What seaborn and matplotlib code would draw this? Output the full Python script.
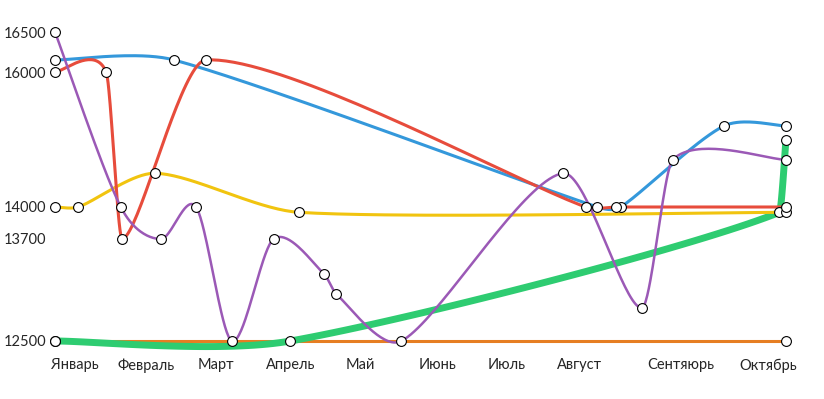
import numpy as np
import pandas as pd
import matplotlib
matplotlib.use("Agg")
import matplotlib.pyplot as plt
import seaborn as sns

# ---- data (x = position across the period, 0..100) ----
months = ['Январь', 'Февраль', 'Март', 'Апрель', 'Май', 'Июнь', 'Июль', 'Август', 'Сентяюрь', 'Октябрь']
month_x = [2.7, 12.5, 22.0, 32.3, 41.7, 52.3, 61.8, 71.8, 85.6, 97.5]
y_ticks = [12500, 13700, 14000, 16000, 16500]

orange_x = [0, 100]
orange_y = [12500, 12500]

green_x = [0, 32.2, 99.1, 100]
green_y = [12500, 12500, 13950, 15000]

yellow_x = [0, 3.2, 13.7, 33.4, 100]
yellow_y = [14000, 14000, 14500, 13950, 13950]

blue_x = [0, 16.3, 74.2, 77.4, 91.5, 100]
blue_y = [16150, 16150, 14000, 14000, 15200, 15200]

red_x = [0, 7.0, 9.2, 20.6, 72.6, 76.8, 100]
red_y = [16000, 16000, 13700, 16150, 14000, 14000, 14000]

purple_x = [0, 9.0, 14.5, 19.3, 24.2, 29.9, 36.8, 38.5, 47.4, 69.5, 80.3, 84.5, 100]
purple_y = [16500, 14000, 13700, 14000, 12500, 13700, 13290, 13050, 12500, 14500, 12890, 14700, 14700]

# ---- y axis is not evenly spaced: tick heights (px above the 12500 line) ----
tick_px = np.array([0, 102, 134, 269, 309], float)
yt = np.array(y_ticks, float)


def fwd(v):
    v = np.asarray(v, float)
    out = np.interp(v, yt, tick_px)
    k0 = (tick_px[1] - tick_px[0]) / (yt[1] - yt[0])
    k1 = (tick_px[-1] - tick_px[-2]) / (yt[-1] - yt[-2])
    out = np.where(v < yt[0], tick_px[0] + (v - yt[0]) * k0, out)
    out = np.where(v > yt[-1], tick_px[-1] + (v - yt[-1]) * k1, out)
    return out


def inv(p):
    p = np.asarray(p, float)
    out = np.interp(p, tick_px, yt)
    k0 = (yt[1] - yt[0]) / (tick_px[1] - tick_px[0])
    k1 = (yt[-1] - yt[-2]) / (tick_px[-1] - tick_px[-2])
    out = np.where(p < tick_px[0], yt[0] + (p - tick_px[0]) * k0, out)
    out = np.where(p > tick_px[-1], yt[-1] + (p - tick_px[-1]) * k1, out)
    return out


def smooth(xs, ys, n=40, c=0.3):
    # catmull-rom style bezier, done in screen-like space
    P = np.column_stack([np.asarray(xs, float), fwd(ys)])
    m = len(P)
    segs = []
    for i in range(m - 1):
        p0, p1, p2, p3 = P[max(i - 1, 0)], P[i], P[i + 1], P[min(i + 2, m - 1)]
        dx = abs(p2[0] - p1[0])
        t1 = (p2 - p0) / 6
        t2 = (p3 - p1) / 6
        if abs(t1[0]) > c * dx:
            t1 = t1 * c * dx / abs(t1[0])
        if abs(t2[0]) > c * dx:
            t2 = t2 * c * dx / abs(t2[0])
        c1, c2 = p1 + t1, p2 - t2
        s = np.linspace(0, 1, n)[:, None]
        segs.append((1 - s) ** 3 * p1 + 3 * (1 - s) ** 2 * s * c1 + 3 * (1 - s) * s ** 2 * c2 + s ** 3 * p2)
    pts = np.vstack(segs)
    return pd.DataFrame({'x': pts[:, 0], 'y': inv(pts[:, 1])})


sns.set_style("white")
plt.rcParams['font.family'] = ['Lato', 'DejaVu Sans']

fig = plt.figure(figsize=(8.24, 3.99), dpi=100)
ax = fig.add_axes([55 / 824, 58 / 399, 731 / 824, 309 / 399])
ax.set_yscale('function', functions=(fwd, inv))

series = [
    (orange_x, orange_y, '#E67E22', 2.2),
    (green_x, green_y, '#2ECC71', 5.0),
    (yellow_x, yellow_y, '#F1C40F', 2.2),
    (blue_x, blue_y, '#3498DB', 2.2),
    (red_x, red_y, '#E74C3C', 2.2),
    (purple_x, purple_y, '#9B59B6', 1.8),
]

for xs, ys, col, lw in series:
    curve = smooth(xs, ys)
    sns.lineplot(data=curve, x='x', y='y', sort=False, estimator=None,
                 color=col, lw=lw, ax=ax, clip_on=False)

for xs, ys, col, lw in series:
    sns.scatterplot(x=xs, y=ys, s=50, color='white', edgecolor='black',
                    linewidth=0.8, zorder=5, clip_on=False, ax=ax)

ax.set_xlim(0, 100)
ax.set_ylim(12500, 16500)
ax.set_yticks(y_ticks)
ax.set_yticklabels([str(v) for v in y_ticks])
ax.yaxis.set_minor_locator(matplotlib.ticker.NullLocator())
ax.set_xticks(month_x)
ax.set_xticklabels(months)
ax.tick_params(axis='y', length=0, pad=6.5, labelsize=10.5)
ax.tick_params(axis='x', length=0, pad=12.5, labelsize=10.5)
ax.set_xlabel('')
ax.set_ylabel('')
ax.grid(False)
sns.despine(ax=ax, left=True, bottom=True)

fig.savefig('out.png', dpi=100)
